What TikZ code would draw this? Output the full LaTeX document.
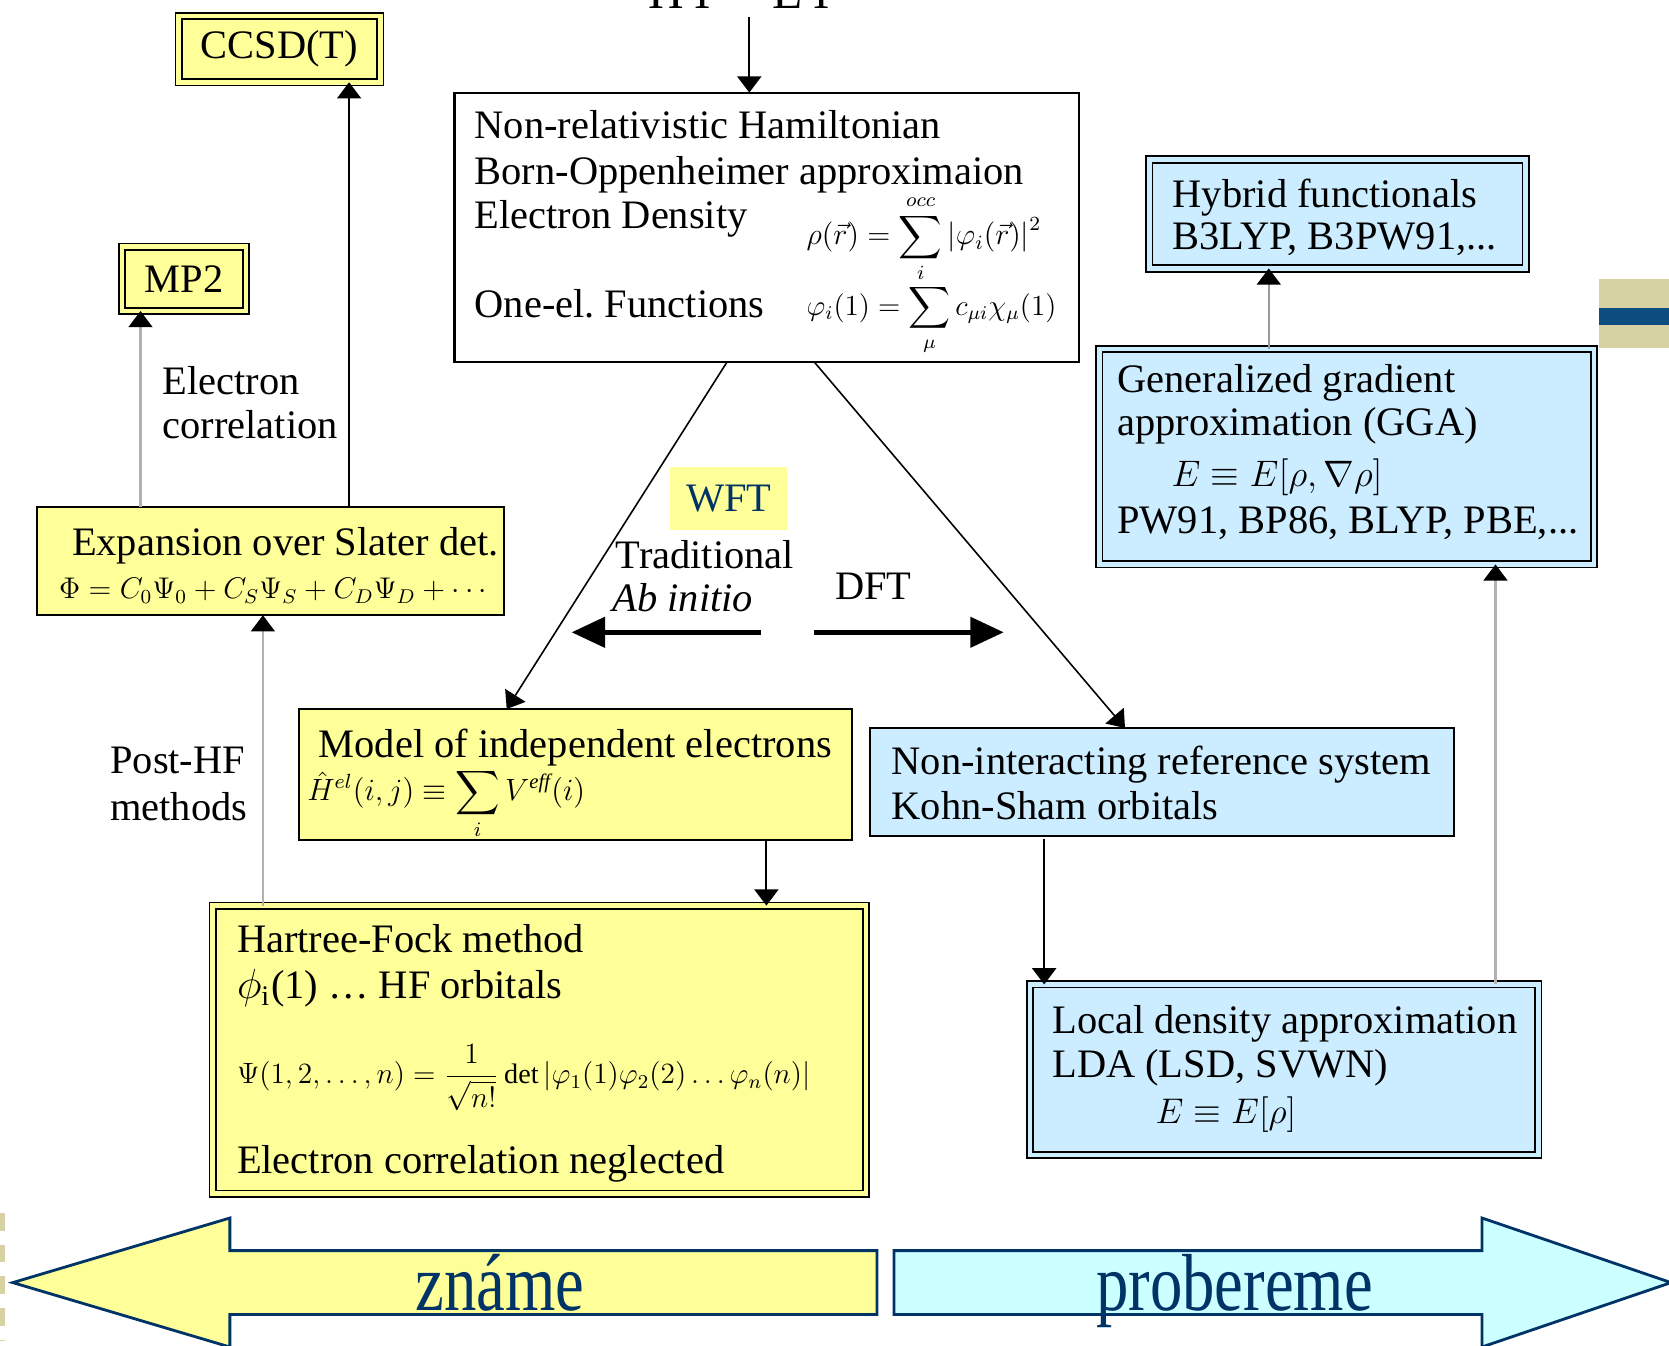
\documentclass[tikz,border=0pt]{standalone}
\usepackage{fontspec}
\setmainfont{Liberation Serif}
\usepackage{amsmath}
\usepackage{graphicx}
\usetikzlibrary{arrows.meta}
\definecolor{yel}{HTML}{FFFF99}
\definecolor{blu}{HTML}{CCECFF}
\definecolor{cyn}{HTML}{CCFFFF}
\definecolor{navy}{HTML}{003366}
\definecolor{tanc}{HTML}{D6D2A4}
\definecolor{band}{HTML}{0E4D80}
\frenchspacing
\begin{document}
\begin{tikzpicture}[x=0.01cm,y=-0.01cm,
  every node/.style={font=\fontsize{11.5}{13}\selectfont},
  box/.style={draw=black, line width=0.6pt, anchor=north west, inner sep=0pt, outer sep=0pt},
  dbox/.style={box, line width=0.5pt, double distance=1.3pt},
  ybox/.style={box, fill=yel},
  bbox/.style={box, fill=blu},
  ydbox/.style={dbox, fill=yel, double=yel},
  bdbox/.style={dbox, fill=blu, double=blu},
  txt/.style={anchor=west, inner sep=0pt, text height=7.6pt, text depth=0pt},
  fml/.style={anchor=west, inner sep=0pt},
  arr/.style={draw=black, line width=0.6pt, -{Triangle[length=4.6pt,width=6.8pt]}},
  thinarr/.style={draw=black, line width=0.45pt, -{Triangle[length=4.6pt,width=6.8pt]}},
  garr/.style={draw=gray!60, line width=0.6pt, -{Triangle[length=4.6pt,width=6.8pt,color=black]}},
  dgarr/.style={draw=gray!120!black, line width=0.6pt, -{Triangle[length=4.6pt,width=6.8pt,color=black]}},
  bigarr/.style={draw=black, line width=1.4pt, -{Triangle[length=9.5pt,width=8.5pt]}},
  bottomarr/.style={draw=navy, line width=0.8pt, line join=miter}
]
\useasboundingbox (0,0) rectangle (1669,1346);
\clip (0,0) rectangle (1669,1346);

% decorations
\fill[tanc] (1599,279) rectangle (1669,348);
\fill[band] (1599,308) rectangle (1669,325);
\draw[tanc, line width=1.4pt, dash pattern=on 5pt off 4pt] (2.5,1213) -- (2.5,1340);

% equation at top
\node[anchor=base, inner sep=0pt, font=\fontsize{14}{16}\selectfont] (eq) at (744,9) {HΨ = EΨ};

% boxes
\node[box, fill=white, minimum width=6.238cm, minimum height=2.693cm] (ham) at (454.5,92.6) {};
\node[ydbox, minimum width=2.016cm, minimum height=0.664cm] (ccsd) at (178.6,15.8) {CCSD(T)};
\node[ydbox, minimum width=1.239cm, minimum height=0.643cm] (mp2) at (122.2,246.7) {MP2};
\node[ybox, minimum width=4.662cm, minimum height=1.085cm] (exp) at (37.3,506.7) {};
\node[ybox, minimum width=5.525cm, minimum height=1.308cm] (model) at (299,709) {};
\node[ydbox, minimum width=6.529cm, minimum height=2.878cm] (hf) at (212.7,905.6) {};
\node[bbox, minimum width=5.844cm, minimum height=1.076cm] (nonint) at (869.6,728) {};
\node[bdbox, minimum width=5.08cm, minimum height=1.706cm] (lda) at (1030,984.4) {};
\node[bdbox, minimum width=4.942cm, minimum height=2.154cm] (gga) at (1099.4,348.9) {};
\node[bdbox, minimum width=3.761cm, minimum height=1.089cm] (hyb) at (1149.4,159.5) {};
\node[fill=yel, anchor=north west, inner sep=0pt, minimum width=1.171cm, minimum height=0.628cm, text=navy] (wft) at (669.5,466.2) {WFT};

% Hamiltonian box text
\node[txt] (h1) at (474,125.6) {Non-relativistic Hamiltonian};
\node[txt] (h2) at (474,171.4) {Born-Oppenheimer approximaion};
\node[txt] (h3) at (474,215) {Electron Density};
\node[fml] (h3f) at (806,239) {\resizebox{66.7pt}{!}{$\displaystyle\rho(\vec r)=\sum_i^{occ}\left|\varphi_i(\vec r)\right|^2$}};
\node[txt] (h4) at (474,304.4) {One-el. Functions};
\node[fml] (h4f) at (806,320) {\resizebox{71pt}{!}{$\displaystyle\varphi_i(1)=\sum_\mu c_{\mu i}\chi_\mu(1)$}};

% expansion
\node[txt] (e1) at (71.3,541.8) {Expansion over Slater det.};
\node[fml] (e2) at (58.5,590.7) {\resizebox{123pt}{!}{$\Phi=C_0\Psi_0+C_S\Psi_S+C_D\Psi_D+\cdots$}};

% model
\node[txt] (m1) at (318,744) {Model of independent electrons};
\node[fml] (m2) at (306.6,804) {\resizebox{79pt}{!}{$\displaystyle\hat H^{el}(i,j)\equiv\sum_i V^{\mathit{eff}}(i)$}};

% HF
\node[txt] (f1) at (236.3,938.8) {Hartree-Fock method};
\node[txt] (f2) at (236.3,985.6) {$\phi$\textsubscript{i}(1) … HF orbitals};
\node[fml] (f3) at (236.3,1078) {\resizebox{163pt}{!}{$\displaystyle\Psi(1,2,\ldots,n)=\frac{1}{\sqrt{n!}}\det\left|\varphi_1(1)\varphi_2(2)\ldots\varphi_n(n)\right|$}};
\node[txt] (f4) at (236.3,1160) {Electron correlation neglected};

% non-interacting
\node[txt] (n1) at (891,761) {Non-interacting reference system};
\node[txt] (n2) at (891,805.8) {Kohn-Sham orbitals};

% LDA
\node[txt] (l1) at (1051.6,1019.7) {Local density approximation};
\node[txt] (l2) at (1051.6,1064.4) {LDA (LSD, SVWN)};
\node[fml] (l3) at (1155,1115) {\resizebox{40pt}{!}{$E\equiv E[\rho]$}};

% GGA
\node[txt] (g1) at (1116.6,379) {Generalized gradient};
\node[txt] (g2) at (1116.6,422.6) {approximation (GGA)};
\node[fml] (g3) at (1171,477) {\resizebox{60pt}{!}{$E\equiv E[\rho,\nabla\rho]$}};
\node[txt] (g4) at (1116.6,520.5) {PW91, BP86, BLYP, PBE,...};

% hybrid
\node[txt] (y1) at (1172,193.7) {Hybrid functionals};
\node[txt] (y2) at (1172,236.3) {B3LYP, B3PW91,...};

% labels
\node[txt] (ec1) at (161.8,381) {Electron};
\node[txt] (ec2) at (161.8,424.7) {correlation};
\node[txt] (ph1) at (109.6,760) {Post-HF};
\node[txt] (ph2) at (109.6,806.8) {methods};
\node[txt] (tr) at (615,555.6) {Traditional};
\node[txt] (ab) at (612,598.2) {\itshape Ab initio};
\node[txt] (dft) at (834.5,586.5) {DFT};

% connector x positions
\coordinate (xa) at (140.5,0);
\coordinate (xb) at (349.1,0);
\coordinate (xc) at (262.9,0);
\coordinate (xd) at (766.4,0);
\coordinate (xe) at (1044.2,0);
\coordinate (xf) at (1495.5,0);
\coordinate (xg) at (1268.8,0);
\coordinate (xh) at (749.3,0);
\coordinate (d1) at (727,0);
\coordinate (d2) at (506.7,0);
\coordinate (d3) at (814.3,0);
\coordinate (d4) at (1125,0);

\draw[arr] ([yshift=-2pt]eq.south -| xh) -- (ham.north -| xh);
\draw[thinarr] (ham.south -| d1) -- (model.north -| d2);
\draw[thinarr] (ham.south -| d3) -- (nonint.north -| d4);
\draw[garr] (exp.north -| xa) -- (mp2.south -| xa);
\draw[arr] (exp.north -| xb) -- (ccsd.south -| xb);
\draw[garr] (hf.north -| xc) -- (exp.south -| xc);
\draw[arr] (model.south -| xd) -- (hf.north -| xd);
\draw[arr] ([yshift=-1pt]nonint.south -| xe) -- (lda.north -| xe);
\draw[garr] (lda.north -| xf) -- (gga.south -| xf);
\draw[dgarr] (gga.north -| xg) -- (hyb.south -| xg);

% thick middle arrows
\coordinate (ta1) at (761,632.3);
\coordinate (ta2) at (571.6,632.3);
\coordinate (tb1) at (814.3,632.3);
\coordinate (tb2) at (1003.7,632.3);
\draw[bigarr] (ta1) -- (ta2);
\draw[bigarr] (tb1) -- (tb2);

% bottom arrows
\draw[bottomarr, fill=yel] (12.8,1282.6) -- (229.9,1218) -- (229.9,1250.6) -- (877,1250.6) -- (877,1314.5) -- (229.9,1314.5) -- (229.9,1347) -- cycle;
\draw[bottomarr, fill=cyn] (894,1250.6) -- (1482,1250.6) -- (1482,1218) -- (1671,1282.6) -- (1482,1347) -- (1482,1314.5) -- (894,1314.5) -- cycle;
\node[anchor=base, inner sep=0pt, text=navy, font=\fontsize{23}{26}\selectfont] (zn) at (500,1310) {\scalebox{0.8}[1]{známe}};
\node[anchor=base, inner sep=0pt, text=navy, font=\fontsize{23}{26}\selectfont] (pr) at (1234.7,1310) {\scalebox{0.8}[1]{probereme}};
\end{tikzpicture}
\end{document}
